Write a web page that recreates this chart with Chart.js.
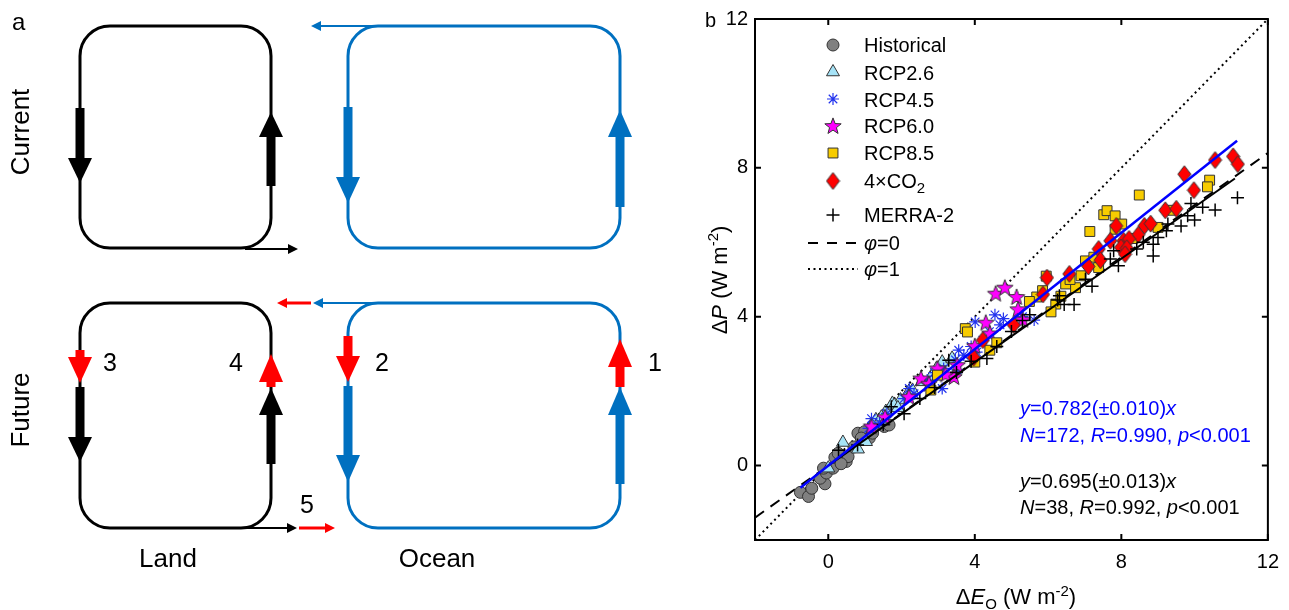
<!DOCTYPE html>
<html>
<head>
<meta charset="utf-8">
<script src="https://cdn.jsdelivr.net/npm/chart.js@4.4.0/dist/chart.umd.min.js"></script>
<style>
  body { margin: 0; width: 1289px; height: 610px; position: relative; background: #fff; overflow: hidden;
         font-family: "Liberation Sans", Arial, sans-serif; }
  canvas { position: absolute; }
  .t { position: absolute; white-space: nowrap; line-height: 1; color: #000; }
  .c { transform: translate(-50%, -50%); }
  .r { transform: translate(-50%, -50%) rotate(-90deg); }
</style>
</head>
<body>
<canvas id="schem" width="690" height="610" style="left:0;top:0"></canvas>
<canvas id="chart" width="599" height="610" style="left:690px;top:0"></canvas>

<!-- panel a labels -->
<div class="t" style="left:12px;top:10px;font-size:24px">a</div>
<div class="t r" style="left:20px;top:132px;font-size:26px">Current</div>
<div class="t r" style="left:20px;top:410px;font-size:26px">Future</div>
<div class="t c" style="left:168px;top:558px;font-size:26px">Land</div>
<div class="t c" style="left:437px;top:558px;font-size:26px">Ocean</div>
<div class="t c" style="left:110px;top:362px;font-size:25px">3</div>
<div class="t c" style="left:236px;top:362px;font-size:25px">4</div>
<div class="t c" style="left:382px;top:362px;font-size:25px">2</div>
<div class="t c" style="left:655px;top:362px;font-size:25px">1</div>
<div class="t c" style="left:307px;top:504px;font-size:25px">5</div>

<!-- panel b labels -->
<div class="t" style="left:705px;top:10px;font-size:20px">b</div>
<div class="t c" style="left:1016px;top:597px;font-size:22px">&Delta;<i>E</i><sub style="font-size:15px">O</sub> (W m<sup style="font-size:15px">-2</sup>)</div>
<div class="t r" style="left:718px;top:280px;font-size:22px">&Delta;<i>P</i> (W m<sup style="font-size:15px">-2</sup>)</div>

<div class="t" style="left:864px;top:35px;font-size:20px">Historical</div>
<div class="t" style="left:864px;top:63px;font-size:20px">RCP2.6</div>
<div class="t" style="left:864px;top:90px;font-size:20px">RCP4.5</div>
<div class="t" style="left:864px;top:116px;font-size:20px">RCP6.0</div>
<div class="t" style="left:864px;top:143px;font-size:20px">RCP8.5</div>
<div class="t" style="left:864px;top:171px;font-size:20px">4×CO<sub style="font-size:15px">2</sub></div>
<div class="t" style="left:864px;top:205px;font-size:20px">MERRA-2</div>
<div class="t" style="left:864px;top:233px;font-size:20px"><i>φ</i>=0</div>
<div class="t" style="left:864px;top:259px;font-size:20px"><i>φ</i>=1</div>

<div class="t" style="left:1020px;top:398px;font-size:20px;color:#0000ff"><i>y</i>=0.782(±0.010)<i>x</i></div>
<div class="t" style="left:1020px;top:425px;font-size:20px;color:#0000ff"><i>N</i>=172, <i>R</i>=0.990, <i>p</i>&lt;0.001</div>
<div class="t" style="left:1020px;top:471px;font-size:20px"><i>y</i>=0.695(±0.013)<i>x</i></div>
<div class="t" style="left:1020px;top:497px;font-size:20px"><i>N</i>=38, <i>R</i>=0.992, <i>p</i>&lt;0.001</div>

<script>
// ---------- data ----------
const xTicks = [0, 4, 8, 12];
const yTicks = [0, 4, 8, 12];

const historical = [[-0.76,-0.72],[-0.54,-0.83],[-0.45,-0.61],[-0.09,-0.49],[-0.22,-0.34],[-0.05,-0.2],
  [0.13,-0.07],[-0.13,-0.07],[0.18,0.22],[0.49,0.11],[0.27,0.33],[0.54,0.24],[0.81,0.87],[0.99,0.91],
  [1.12,0.74],[1.21,0.87],[0.9,0.74],[1.53,1.05],[1.66,1.09],[1.21,1.05],[0.35,0.05],[0.7,0.5]];

const rcp26 = [[0.40,0.62],[0.81,0.44],[0.0,-0.07],[1.03,0.64],[1.75,1.67],[1.97,1.76],[2.2,1.99],
  [1.57,1.45],[1.3,1.23],[3.11,2.78],[3.38,2.88],[2.8,2.38],[2.3,2.02],[1.8,1.62],[2.55,2.25],
  [1.45,1.3],[2.95,2.6],[1.9,1.55]];

const rcp45 = [[4.55,4.05],[4.01,3.86],[4.69,3.78],[4.78,3.95],[5.62,3.91],[4.22,3.37],[4.05,3.05],
  [3.56,3.1],[3.47,2.84],[3.15,2.61],[3.11,2.07],[2.34,1.93],[2.21,2.07],[1.18,1.26],[1.1,1.0],
  [2.07,1.8],[3.52,2.57],[3.7,2.97],[2.7,2.3],[1.6,1.4],[2.9,2.5],[3.9,3.2],[4.4,3.6],[5.3,4.0],[1.4,1.15]];

const rcp60 = [[4.57,4.62],[4.82,4.78],[5.14,4.53],[5.18,4.2],[5.31,3.92],[4.3,3.84],[4.41,3.55],
  [4.0,3.21],[3.52,2.7],[3.43,2.38],[2.98,2.61],[2.53,2.34],[1.18,1.05],[2.2,1.85],[2.75,2.2],
  [3.2,2.45],[1.55,1.3]];

const rcp85 = [[8.49,7.27],[10.41,7.67],[10.35,7.49],[9.41,6.86],[7.52,6.74],[7.61,6.85],[7.83,6.71],
  [8.01,6.49],[7.83,6.35],[7.14,6.29],[7.02,5.5],[7.38,5.32],[6.48,4.88],[6.75,4.78],[5.95,5.09],
  [5.69,4.53],[5.49,4.41],[6.21,4.34],[6.08,4.13],[3.74,3.68],[3.8,3.59],[4.41,3.1],[4.0,2.78],
  [2.98,2.43],[2.8,2.03],[6.6,5.0],[7.25,5.6],[8.3,6.1],[9.0,6.4],[5.85,4.7],[6.35,4.55],[4.6,3.3],[6.9,5.1]];

const co2x4 = [[10.56,8.21],[11.05,8.31],[11.18,8.10],[9.72,7.83],[9.98,7.40],[9.2,6.86],[8.63,6.44],
  [8.46,6.20],[7.86,6.44],[7.70,6.04],[8.06,6.04],[8.21,6.09],[7.99,5.86],[8.15,5.84],[8.1,5.68],
  [7.38,5.82],[7.43,5.52],[6.58,5.15],[5.97,5.05],[5.86,4.6],[5.06,3.78],[4.22,3.37],[3.97,2.90],
  [9.5,6.9],[8.8,6.5],[7.1,5.35]];

const merra2 = [[11.17,7.2],[10.56,6.87],[10.22,6.94],[9.9,7.04],[9.81,6.71],[9.63,6.44],[9.27,6.49],
  [9.23,6.31],[9.0,6.13],[8.87,5.95],[8.87,5.63],[8.42,5.82],[7.92,5.37],[7.79,5.77],[7.7,5.55],
  [7.2,4.82],[7.02,5.01],[6.71,4.33],[6.44,4.33],[6.31,4.56],[6.26,4.45],[4.33,2.88],[2.07,1.39],
  [3.29,2.83],[1.72,1.58],[0.28,0.41],[5.5,4.05],[5.3,3.9],[5.0,3.6],[4.6,3.2],[3.9,2.8],[3.5,2.5],
  [2.9,2.1],[2.5,1.8],[1.5,1.1],[0.8,0.55],[10.0,6.6],[8.6,6.0]];

// fitted and reference lines: slope, x from, x to
const fitAll = [0.782, -0.76, 11.16];
const fitMerra = [0.695, 0.0, 11.1];
const phi0 = [0.7, -2, 12];
const phi1 = [1.0, -2, 12];

// ---------- helpers ----------
const pts = arr => arr.map(p => ({ x: p[0], y: p[1] }));
const line = l => [{ x: l[1], y: l[0] * l[1] }, { x: l[2], y: l[0] * l[2] }];

function starImg() {
  const c = document.createElement('canvas');
  c.width = 20; c.height = 20;
  const g = c.getContext('2d');
  g.beginPath();
  for (let i = 0; i < 10; i++) {
    const r = i % 2 ? 3.6 : 8.6;
    const a = -Math.PI / 2 + i * Math.PI / 5;
    g.lineTo(10 + r * Math.cos(a), 10.5 + r * Math.sin(a));
  }
  g.closePath();
  g.fillStyle = '#ff00ff'; g.fill();
  g.strokeStyle = '#333'; g.lineWidth = 1; g.stroke();
  return c;
}
function diamondImg() {
  const c = document.createElement('canvas');
  c.width = 15; c.height = 19;
  const g = c.getContext('2d');
  g.beginPath();
  g.moveTo(7.5, 1); g.lineTo(14, 9.5); g.lineTo(7.5, 18); g.lineTo(1, 9.5); g.closePath();
  g.fillStyle = '#ff0000'; g.fill();
  g.strokeStyle = '#333'; g.lineWidth = 1; g.stroke();
  return c;
}
const star5 = starImg();
const diamond = diamondImg();

const FONT = '"Liberation Sans", Arial, sans-serif';

// ---------- schematic (panel a) ----------
const sc = document.getElementById('schem').getContext('2d');
const BLUE = '#0070c0', RED = '#ff0000';

function box(x0, y0, x1, y1, color) {
  const r = 30;
  sc.strokeStyle = color; sc.lineWidth = 3;
  sc.beginPath();
  sc.moveTo(x0 + r, y0);
  sc.arcTo(x1, y0, x1, y1, r);
  sc.arcTo(x1, y1, x0, y1, r);
  sc.arcTo(x0, y1, x0, y0, r);
  sc.arcTo(x0, y0, x1, y0, r);
  sc.closePath();
  sc.stroke();
}
// thick vertical arrow: shaft from s0 to s1, head from base to tip
function vArrow(x, s0, s1, base, tip, color) {
  sc.fillStyle = color;
  sc.fillRect(x - 4.5, Math.min(s0, s1), 9, Math.abs(s1 - s0));
  sc.beginPath();
  sc.moveTo(x - 12, base); sc.lineTo(x + 12, base); sc.lineTo(x, tip); sc.closePath();
  sc.fill();
}
// thin horizontal arrow from x0 to x1 (head at x1)
function hArrow(x0, x1, y, color, w) {
  const d = Math.sign(x1 - x0);
  sc.strokeStyle = color; sc.lineWidth = w;
  sc.beginPath(); sc.moveTo(x0, y); sc.lineTo(x1 - d * 6, y); sc.stroke();
  sc.fillStyle = color;
  sc.beginPath();
  sc.moveTo(x1, y); sc.lineTo(x1 - d * 10, y - 5); sc.lineTo(x1 - d * 10, y + 5); sc.closePath();
  sc.fill();
}

// current
box(80, 26, 271, 248, '#000');
box(348, 26, 620, 248, BLUE);
vArrow(80, 108, 160, 158, 183, '#000');
vArrow(271, 186, 135, 137, 112, '#000');
vArrow(348, 107, 179, 177, 203, BLUE);
vArrow(620, 207, 135, 137, 110, BLUE);
hArrow(378, 311, 26, BLUE, 2);
hArrow(245, 298, 249, '#000', 2);

// future
box(80, 303, 271, 528, '#000');
box(348, 303, 620, 528, BLUE);
vArrow(80, 350, 359, 357, 383, RED);
vArrow(80, 387, 439, 437, 462, '#000');
vArrow(271, 387, 380, 382, 354, RED);
vArrow(271, 464, 413, 415, 388, '#000');
vArrow(348, 336, 358, 356, 382, RED);
vArrow(348, 386, 457, 455, 482, BLUE);
vArrow(620, 387, 365, 367, 339, RED);
vArrow(620, 484, 413, 415, 387, BLUE);
hArrow(380, 313, 303, BLUE, 2);
hArrow(311, 277, 303, RED, 3);
hArrow(245, 297, 528, '#000', 2);
hArrow(299, 335, 528, RED, 3);

// ---------- scatter (panel b) ----------
const scatterSets = [
  { label: 'MERRA-2', data: pts(merra2), pointStyle: 'cross', pointRadius: 6.5, borderColor: '#000',
    backgroundColor: '#000', pointBorderWidth: 1.5, order: 2, legendY: 215 },
  { label: '4×CO2', data: pts(co2x4), pointStyle: diamond, order: 3, legendY: 181 },
  { label: 'RCP8.5', data: pts(rcp85), pointStyle: 'rect', pointRadius: 7, backgroundColor: '#f7cc00',
    borderColor: '#333', pointBorderWidth: 1, order: 4, legendY: 153 },
  { label: 'RCP6.0', data: pts(rcp60), pointStyle: star5, order: 5, legendY: 126 },
  { label: 'RCP4.5', data: pts(rcp45), pointStyle: 'star', pointRadius: 6, borderColor: '#2233ee',
    backgroundColor: '#2233ee', pointBorderWidth: 1.2, order: 6, legendY: 99 },
  { label: 'RCP2.6', data: pts(rcp26), pointStyle: 'triangle', pointRadius: 7.5, backgroundColor: '#a6e3f7',
    borderColor: '#333', pointBorderWidth: 1, order: 7, legendY: 72 },
  { label: 'Historical', data: pts(historical), pointStyle: 'circle', pointRadius: 6, backgroundColor: '#808080',
    borderColor: '#333', pointBorderWidth: 1, order: 8, legendY: 45 }
];

const lineSets = [
  { label: 'fit all', data: line(fitAll), borderColor: '#0000ff', borderWidth: 2.5, order: 0 },
  { label: 'fit MERRA-2', data: line(fitMerra), borderColor: '#000', borderWidth: 2, order: 1 },
  { label: 'φ=0', data: line(phi0), borderColor: '#000', borderWidth: 2, borderDash: [11, 8], order: 9 },
  { label: 'φ=1', data: line(phi1), borderColor: '#000', borderWidth: 2, borderDash: [2, 3.5], order: 10 }
].map(d => Object.assign(d, { showLine: true, pointRadius: 0, fill: false }));

const framePlugin = {
  id: 'frame',
  afterDraw(chart) {
    const { ctx, chartArea: a, scales } = chart;
    ctx.save();
    ctx.strokeStyle = '#000';
    ctx.lineWidth = 2;
    ctx.strokeRect(a.left, a.top, a.right - a.left, a.bottom - a.top);
    ctx.beginPath();
    xTicks.forEach(v => {
      const px = scales.x.getPixelForValue(v);
      ctx.moveTo(px, a.bottom); ctx.lineTo(px, a.bottom - 6);
      ctx.moveTo(px, a.top); ctx.lineTo(px, a.top + 6);
    });
    yTicks.forEach(v => {
      const py = scales.y.getPixelForValue(v);
      ctx.moveTo(a.left, py); ctx.lineTo(a.left + 6, py);
      ctx.moveTo(a.right, py); ctx.lineTo(a.right - 6, py);
    });
    ctx.stroke();

    // legend markers
    const mx = 143;
    scatterSets.forEach(d => {
      ctx.fillStyle = d.backgroundColor || '#000';
      ctx.strokeStyle = d.borderColor || '#000';
      ctx.lineWidth = d.pointBorderWidth || 1;
      Chart.helpers.drawPoint(ctx, {
        pointStyle: d.pointStyle, radius: d.pointRadius || 6, rotation: 0,
        borderWidth: d.pointBorderWidth || 0
      }, mx, d.legendY);
    });
    ctx.lineWidth = 2;
    ctx.strokeStyle = '#000';
    ctx.setLineDash([10, 9]);
    ctx.beginPath(); ctx.moveTo(118, 243); ctx.lineTo(170, 243); ctx.stroke();
    ctx.setLineDash([2, 3.5]);
    ctx.beginPath(); ctx.moveTo(118, 269); ctx.lineTo(168, 269); ctx.stroke();
    ctx.restore();
  }
};

const tickFont = { family: FONT, size: 20 };

new Chart(document.getElementById('chart'), {
  type: 'scatter',
  data: { datasets: [...lineSets, ...scatterSets] },
  options: {
    responsive: false,
    animation: false,
    devicePixelRatio: 1,
    layout: { padding: { left: 0, right: 12, top: 19, bottom: 0 } },
    plugins: { legend: { display: false }, tooltip: { enabled: false } },
    scales: {
      x: {
        type: 'linear', min: -2, max: 12,
        afterBuildTicks: s => { s.ticks = xTicks.map(v => ({ value: v })); },
        afterFit: s => { s.height = 70; },
        grid: { display: false, drawTicks: false },
        border: { display: false },
        ticks: { padding: 10, color: '#000', font: tickFont, maxRotation: 0 }
      },
      y: {
        type: 'linear', min: -2, max: 12,
        afterBuildTicks: s => { s.ticks = yTicks.map(v => ({ value: v })); },
        afterFit: s => { s.width = 65; },
        grid: { display: false, drawTicks: false },
        border: { display: false },
        ticks: { padding: 7, color: '#000', font: tickFont }
      }
    }
  },
  plugins: [framePlugin]
});
</script>
</body>
</html>
